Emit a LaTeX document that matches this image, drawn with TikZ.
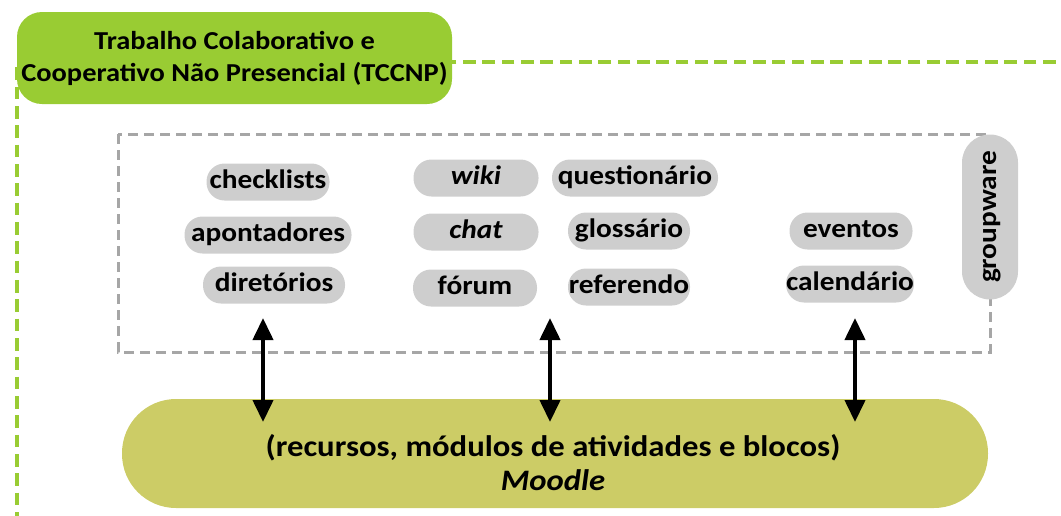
\documentclass[tikz,border=0pt]{standalone}
\usepackage{fontspec}
\setmainfont{Carlito}[FakeStretch=1.1]
\usetikzlibrary{arrows.meta}
\definecolor{titlegreen}{RGB}{153,204,51}
\definecolor{pillgray}{RGB}{206,206,206}
\definecolor{dashgray}{RGB}{166,166,166}
\definecolor{moodleolive}{RGB}{204,204,102}
\begin{document}
\begin{tikzpicture}[x=0.75pt,y=-0.75pt,
  font=\fontsize{19.4}{24}\selectfont\bfseries,
  pill/.style={fill=pillgray, rounded corners=13.5pt, minimum height=27.75pt,
    inner sep=0pt, font=\fontsize{20}{24}\selectfont\bfseries,
    text height=13.5pt, text depth=4pt},
  titlebox/.style={fill=titlegreen, rounded corners=18.75pt, minimum width=326.25pt,
    minimum height=69pt, inner sep=0pt, align=center},
  moodlebox/.style={fill=moodleolive, rounded corners=40.5pt, minimum width=649.5pt,
    minimum height=81.75pt, inner sep=0pt},
  greendash/.style={draw=titlegreen, line width=3pt, dash pattern=on 9.5pt off 5pt},
  graydash/.style={draw=dashgray, line width=2.25pt, dash pattern=on 7.5pt off 4.5pt},
  bothway/.style={line width=3pt, {Triangle[width=15pt,length=16.5pt]}-{Triangle[width=15pt,length=16.5pt]}}
]
\useasboundingbox (0,0) rectangle (1061,515);
% outer green dashed frame
\draw[greendash] (1075,62) -- (17,62) -- (17,530);
% title
\node[titlebox] (title) at (234.5,58) {Trabalho Colaborativo e\\Cooperativo Não Presencial (TCCNP)};
% gray dashed groupware frame
\draw[graydash] (118,134) rectangle (990,352);
% pills
\node[pill, minimum width=92.25pt] (checklists) at (268,182) {checklists};
\node[pill, minimum width=125.25pt] (apontadores) at (268,235) {apontadores};
\node[pill, minimum width=106.5pt] (diretorios) at (274,285) {diretórios};
\node[pill, minimum width=93.75pt] (wiki) at (476,178) {\textit{wiki}};
\node[pill, minimum width=93.75pt] (chat) at (476,232) {\textit{chat}};
\node[pill, minimum width=93pt] (forum) at (475,288) {fórum};
\node[pill, minimum width=124.5pt] (questionario) at (635,178) {questionário};
\node[pill, minimum width=91.5pt] (glossario) at (629,231) {glossário};
\node[pill, minimum width=91.5pt] (referendo) at (629,287) {referendo};
\node[pill, minimum width=92.25pt] (eventos) at (851,231) {eventos};
\node[pill, minimum width=90.75pt] (calendario) at (850,284) {calendário};
\node[pill, rotate=90, minimum width=123.75pt, minimum height=42pt, rounded corners=21pt] (groupware) at (990,217) {groupware};
% moodle
\node[moodlebox] (moodle) at (555,453.5) {};
\node[align=center, inner sep=0pt, font=\fontsize{22.3}{25.5}\selectfont\bfseries] (moodletext) at (553,463) {(recursos, módulos de atividades e blocos)\\\textit{Moodle}};
% arrows
\coordinate (a1t) at (263,318); \coordinate (a1b) at (263,422);
\coordinate (a2t) at (550,318); \coordinate (a2b) at (550,422);
\coordinate (a3t) at (855,318); \coordinate (a3b) at (855,422);
\draw[bothway] (a1t) -- (a1b);
\draw[bothway] (a2t) -- (a2b);
\draw[bothway] (a3t) -- (a3b);
\end{tikzpicture}
\end{document}
